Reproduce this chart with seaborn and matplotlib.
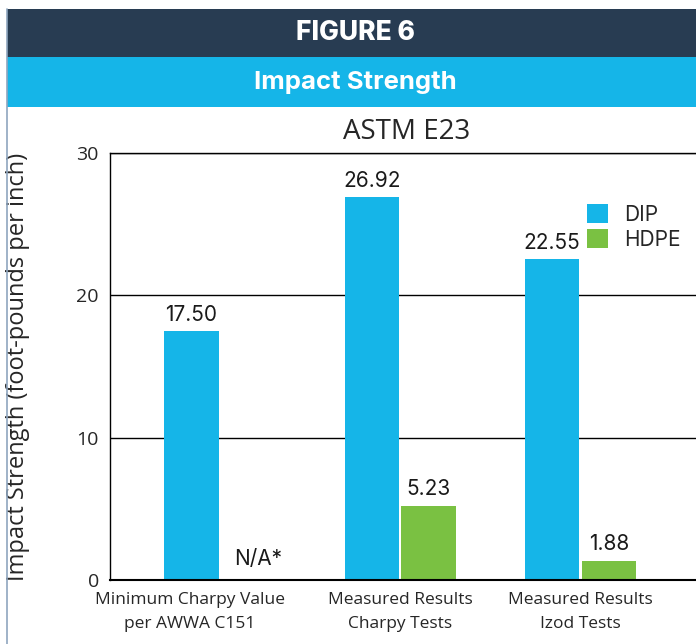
import numpy as np
import pandas as pd
import matplotlib
matplotlib.use("Agg")
import matplotlib.pyplot as plt
import matplotlib.transforms as mtransforms
import seaborn as sns
from matplotlib.patches import Rectangle

groups = ["Minimum Charpy Value\nper AWWA C151",
          "Measured Results\nCharpy Tests",
          "Measured Results\nIzod Tests"]
materials = ["DIP", "HDPE"]
dip_values = [17.50, 26.92, 22.55]
hdpe_values = [0.0, 5.23, 1.35]          # bar heights as drawn in the figure
dip_labels = ["17.50", "26.92", "22.55"]
hdpe_labels = ["N/A*", "5.23", "1.88"]
yticks = [0, 10, 20, 30]

navy = "#283c52"
cyan = "#15b5e8"
green = "#7ac142"

df = pd.DataFrame({
    "Group": groups * 2,
    "Material": ["DIP"] * 3 + ["HDPE"] * 3,
    "Value": dip_values + hdpe_values,
})

sns.set_theme(style="white")
plt.rcParams["font.family"] = ["Open Sans", "DejaVu Sans"]
head_font = ["Inter", "DejaVu Sans"]

fig = plt.figure(figsize=(6.96, 6.44), dpi=100)

# header bands + left frame line
fig.patches.append(Rectangle((0.010, 1 - 57 / 644), 1.0, 48 / 644, transform=fig.transFigure,
                             facecolor=navy, edgecolor="none", zorder=0))
fig.patches.append(Rectangle((0.010, 1 - 107 / 644), 1.0, 50 / 644, transform=fig.transFigure,
                             facecolor=cyan, edgecolor="none", zorder=0))
fig.add_artist(plt.Line2D([0.0105, 0.0105], [0, 1 - 9 / 644], transform=fig.transFigure,
                          color="#8fa6bf", lw=1.2))
fig.text(0.51, 1 - 33 / 644, "FIGURE 6", ha="center", va="center", color="white",
         fontsize=19, fontweight="heavy", family=head_font)
fig.text(0.51, 1 - 83 / 644, "Impact Strength", ha="center", va="center", color="white",
         fontsize=18.5, fontweight="bold", family=head_font)

ax = fig.add_axes([110 / 696, 64 / 644, 1 - 110 / 696 + 0.01, (580 - 153) / 644])
sns.barplot(data=df, x="Group", y="Value", hue="Material", hue_order=materials,
            palette=[cyan, green], width=0.63, gap=0.04, saturation=1,
            linewidth=0, ax=ax)

ax.set_xlim(-0.61, 2.68)
ax.set_ylim(0, 30)
ax.set_yticks(yticks)
ax.yaxis.grid(True, color="black", lw=1)
ax.set_axisbelow(True)
for side in ["left", "top", "bottom"]:
    ax.spines[side].set_color("black")
    ax.spines[side].set_linewidth(1)
ax.spines["bottom"].set_linewidth(1.5)
ax.spines["right"].set_visible(False)
ax.tick_params(axis="both", length=0)
ax.tick_params(axis="y", labelsize=14, pad=8)
ax.tick_params(axis="x", labelsize=12.5, pad=9)
for lab in ax.get_xticklabels():
    lab.set_linespacing(1.6)
ax.set_xlabel("")
ax.set_ylabel("Impact Strength (foot-pounds per inch)", fontsize=17)
ax.yaxis.set_label_coords(-0.135, 0.5)
ax.set_title("ASTM E23", fontsize=20, pad=10)

# first category label sits under the DIP bar in the original
first = ax.get_xticklabels()[0]
first.set_transform(first.get_transform() +
                    mtransforms.ScaledTranslation(-30 / 100, 0, fig.dpi_scale_trans))

dip_bars, hdpe_bars = ax.containers[0], ax.containers[1]
lab_kw = dict(fontsize=15, family=head_font, color="#1a1a1a")
ax.bar_label(dip_bars, labels=dip_labels, padding=4, **lab_kw)
ax.bar_label(hdpe_bars, labels=["" if t == "N/A*" else t for t in hdpe_labels], padding=5, **lab_kw)
na = ax.bar_label(hdpe_bars, labels=[t if t == "N/A*" else "" for t in hdpe_labels], padding=8, **lab_kw)
for t in na:
    t.xyann = (7, 8)

leg = ax.legend(loc="upper left", bbox_to_anchor=(587 / 696, 1 - 204 / 644),
                bbox_transform=fig.transFigure, frameon=False, fontsize=15,
                handlelength=1.0, handleheight=1.05, handletextpad=0.8, labelspacing=0.2,
                borderaxespad=0, borderpad=0)
for t in leg.get_texts():
    t.set_family(head_font)

fig.savefig("out.png", dpi=100)
